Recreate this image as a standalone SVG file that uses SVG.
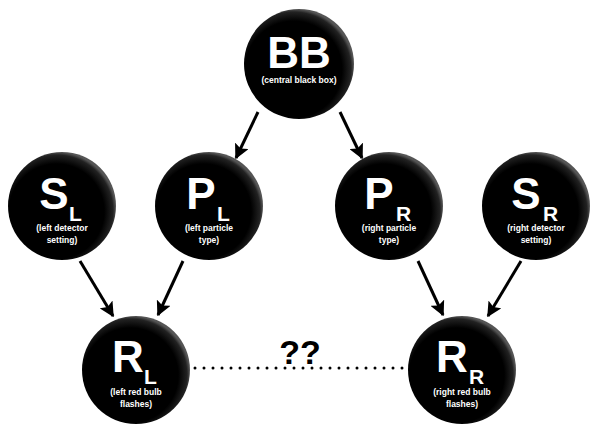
<svg xmlns="http://www.w3.org/2000/svg" width="603" height="432" viewBox="0 0 603 432">
<defs>
<radialGradient id="g" cx="0.45" cy="0.55" r="0.55">
<stop offset="0.8" stop-color="#000"/><stop offset="0.95" stop-color="#222"/><stop offset="1" stop-color="#555"/>
</radialGradient>
<marker id="a" viewBox="0 0 10 10" refX="9" refY="5" markerWidth="5" markerHeight="5" orient="auto" markerUnits="strokeWidth"><path d="M0,0L10,5L0,10L2,5z" fill="#000"/></marker>
</defs>
<style>
.n{fill:url(#g)}
text{font-family:"Liberation Sans",Arial,sans-serif;font-weight:bold;fill:#fff;text-anchor:middle}
.b{font-size:44px}.s{font-size:21px;text-anchor:start}.t{font-size:8.5px}
.c line{stroke:#000;stroke-width:3;marker-end:url(#a)}
</style>
<rect width="603" height="432" fill="#fff"/>
<g class="c">
<line x1="258" y1="112" x2="236" y2="158"/>
<line x1="340" y1="112" x2="362" y2="158"/>
<line x1="80" y1="261" x2="113" y2="316"/>
<line x1="183" y1="261" x2="158" y2="315"/>
<line x1="418" y1="261" x2="443" y2="315"/>
<line x1="521" y1="261" x2="488" y2="316"/>
<line x1="195" y1="368" x2="410" y2="368" stroke-dasharray="0 9" stroke-linecap="round" stroke-width="5" style="marker-end:none"/>
</g>
<text x="300" y="364" style="fill:#000;font-size:34px">??</text>
<g id="BB"><circle class="n" cx="299" cy="64" r="55"/><text class="b" x="299" y="68">BB</text><text class="t" x="299" y="83">(central black box)</text></g>
<g id="SL"><circle class="n" cx="62" cy="206" r="54"/><text class="b" x="54" y="209">S</text><text class="s" x="69" y="221">L</text><text class="t" x="62" y="231">(left detector</text><text class="t" x="62" y="243">setting)</text></g>
<g id="PL"><circle class="n" cx="209" cy="206" r="54"/><text class="b" x="201" y="209">P</text><text class="s" x="217" y="221">L</text><text class="t" x="209" y="231">(left particle</text><text class="t" x="209" y="243">type)</text></g>
<g id="PR"><circle class="n" cx="389" cy="206" r="54"/><text class="b" x="379" y="209">P</text><text class="s" x="396" y="221">R</text><text class="t" x="389" y="231">(right particle</text><text class="t" x="389" y="243">type)</text></g>
<g id="SR"><circle class="n" cx="536" cy="206" r="54"/><text class="b" x="526" y="209">S</text><text class="s" x="543" y="221">R</text><text class="t" x="536" y="231">(right detector</text><text class="t" x="536" y="243">setting)</text></g>
<g id="RL"><circle class="n" cx="136" cy="370" r="54"/><text class="b" x="128" y="372">R</text><text class="s" x="144" y="384">L</text><text class="t" x="136" y="395">(left red bulb</text><text class="t" x="136" y="407">flashes)</text></g>
<g id="RR"><circle class="n" cx="462" cy="370" r="54"/><text class="b" x="452" y="372">R</text><text class="s" x="469" y="384">R</text><text class="t" x="462" y="395">(right red bulb</text><text class="t" x="462" y="407">flashes)</text></g>
</svg>
